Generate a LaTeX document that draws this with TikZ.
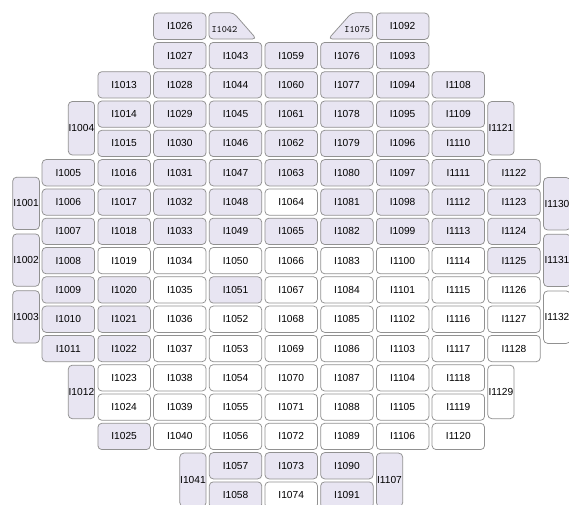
\documentclass[tikz,border=0pt]{standalone}
\usepackage{fontspec}
\setsansfont{Liberation Sans}
\definecolor{lavc}{RGB}{232,229,242}
\definecolor{edgec}{RGB}{145,145,145}
\tikzset{
  cellbox/.style={draw=edgec,line width=0.75pt,rounded corners=4pt,inner sep=0pt,
    anchor=north west,minimum width=52.5pt,minimum height=26.3pt,
    font=\sffamily\fontsize{10.2}{11}\selectfont,text=black},
  narrowbox/.style={cellbox,minimum width=26.3pt,minimum height=53.5pt},
  sidebox/.style={cellbox,minimum width=26.8pt,minimum height=52.4pt},
  cutbox/.style={draw=edgec,line width=0.75pt,rounded corners=4pt,fill=lavc},
  cutlabel/.style={inner sep=0pt,font=\ttfamily\fontsize{9.8}{10}\selectfont}
}
\begin{document}
\begin{tikzpicture}[x=1pt,y=-1pt]
\useasboundingbox[fill=white] (0,0) rectangle (569,504);
% side columns
\foreach \id/\t/\f in {1001/176.8/lavc,1002/233.5/lavc,1003/290.3/lavc}
  \node[sidebox,fill=\f] (n\id) at (12.3,\t) {I\id};
\foreach \id/\t/\f in {1130/177.2/lavc,1131/233.8/lavc,1132/290.6/white}
  \node[sidebox,fill=\f] (n\id) at (543.2,\t) {I\id};
% column B
\foreach \id/\r/\f in {1005/5/lavc,1006/6/lavc,1007/7/lavc,1008/8/lavc,1009/9/lavc,1010/10/lavc,1011/11/lavc}
  \node[cellbox,fill=\f] (n\id) at (41.7,{12.7+29.3*\r}) {I\id};
% narrow cells
\foreach \id/\x/\r/\f in {1004/67.9/3/lavc,1012/67.9/12/lavc,1041/179.4/15/lavc,1107/376/15/lavc,1121/487.4/3/lavc,1129/487.4/12/white}
  \node[narrowbox,fill=\f] (n\id) at (\x,{13.2+29.3*\r}) {I\id};
% column C
\foreach \id/\r/\f in {1013/2/lavc,1014/3/lavc,1015/4/lavc,1016/5/lavc,1017/6/lavc,1018/7/lavc,1019/8/white,1020/9/lavc,1021/10/lavc,1022/11/lavc,1023/12/white,1024/13/white,1025/14/lavc}
  \node[cellbox,fill=\f] (n\id) at (97.5,{12.7+29.3*\r}) {I\id};
% column D
\foreach \id/\r/\f in {1026/0/lavc,1027/1/lavc,1028/2/lavc,1029/3/lavc,1030/4/lavc,1031/5/lavc,1032/6/lavc,1033/7/lavc,1034/8/white,1035/9/white,1036/10/white,1037/11/white,1038/12/white,1039/13/white,1040/14/white}
  \node[cellbox,fill=\f] (n\id) at (153.2,{12.7+29.3*\r}) {I\id};
% column E
\foreach \id/\r/\f in {1043/1/lavc,1044/2/lavc,1045/3/lavc,1046/4/lavc,1047/5/lavc,1048/6/lavc,1049/7/lavc,1050/8/white,1051/9/lavc,1052/10/white,1053/11/white,1054/12/white,1055/13/white,1056/14/white,1057/15/lavc,1058/16/lavc}
  \node[cellbox,fill=\f] (n\id) at (208.9,{12.7+29.3*\r}) {I\id};
% column F
\foreach \id/\r/\f in {1059/1/lavc,1060/2/lavc,1061/3/lavc,1062/4/lavc,1063/5/lavc,1064/6/white,1065/7/lavc,1066/8/white,1067/9/white,1068/10/white,1069/11/white,1070/12/white,1071/13/white,1072/14/white,1073/15/lavc,1074/16/white}
  \node[cellbox,fill=\f] (n\id) at (264.6,{12.7+29.3*\r}) {I\id};
% column G
\foreach \id/\r/\f in {1076/1/lavc,1077/2/lavc,1078/3/lavc,1079/4/lavc,1080/5/lavc,1081/6/lavc,1082/7/lavc,1083/8/white,1084/9/white,1085/10/white,1086/11/white,1087/12/white,1088/13/white,1089/14/white,1090/15/lavc,1091/16/lavc}
  \node[cellbox,fill=\f] (n\id) at (320.3,{12.7+29.3*\r}) {I\id};
% column H
\foreach \id/\r/\f in {1092/0/lavc,1093/1/lavc,1094/2/lavc,1095/3/lavc,1096/4/lavc,1097/5/lavc,1098/6/lavc,1099/7/lavc,1100/8/white,1101/9/white,1102/10/white,1103/11/white,1104/12/white,1105/13/white,1106/14/white}
  \node[cellbox,fill=\f] (n\id) at (376,{12.7+29.3*\r}) {I\id};
% column I
\foreach \id/\r/\f in {1108/2/lavc,1109/3/lavc,1110/4/lavc,1111/5/lavc,1112/6/lavc,1113/7/lavc,1114/8/white,1115/9/white,1116/10/white,1117/11/white,1118/12/white,1119/13/white,1120/14/white}
  \node[cellbox,fill=\f] (n\id) at (431.7,{12.7+29.3*\r}) {I\id};
% column J
\foreach \id/\r/\f in {1122/5/lavc,1123/6/lavc,1124/7/lavc,1125/8/lavc,1126/9/white,1127/10/white,1128/11/white}
  \node[cellbox,fill=\f] (n\id) at (487.4,{12.7+29.3*\r}) {I\id};
% cut-corner cells
\draw[cutbox] (208.9,39) -- (208.9,12.7) -- (233.5,12.7) -- (256.5,39) -- cycle;
\node[cutlabel,anchor=west] (n1042) at (211.3,29.5) {I1042};
\draw[cutbox] (372.8,39) -- (372.8,12.7) -- (351.8,12.7) -- (328.3,39) -- cycle;
\node[cutlabel,anchor=east] (n1075) at (370.3,29.5) {I1075};
\end{tikzpicture}
\end{document}
